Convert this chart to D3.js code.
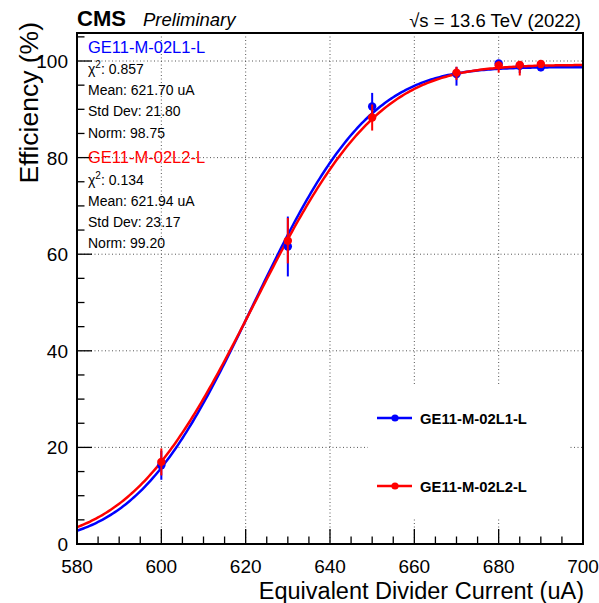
<!DOCTYPE html>
<html>
<head>
<meta charset="utf-8">
<script src="https://cdn.jsdelivr.net/npm/d3@7"></script>
<style>
  body { margin: 0; background: #fff; }
  text { font-family: "Liberation Sans", Arial, sans-serif; }
</style>
</head>
<body>
<svg id="chart" width="599" height="603"></svg>
<script>
// data
const currents = [600, 630, 650, 670, 680, 685, 690];
const effL1 = [16.3, 61.6, 90.6, 97.3, 99.5, 99.0, 98.7];
const effL1Lo = [3.0, 6.2, 2.8, 2.4, 1.0, 1.5, 0.8];
const effL1Hi = [3.0, 6.2, 2.8, 1.5, 0.5, 0.8, 0.6];
const effL2 = [17.0, 62.8, 88.3, 97.6, 99.1, 99.2, 99.4];
const effL2Lo = [2.8, 4.7, 2.7, 1.5, 1.5, 2.2, 0.8];
const effL2Hi = [2.8, 4.7, 2.7, 1.2, 0.8, 0.7, 0.5];

// fit results (shown in the stat boxes)
const chambers = ["GE11-M-02L1-L", "GE11-M-02L2-L"];
const colors = ["#0000ff", "#ff0000"];
const chi2 = [0.857, 0.134];
const fitMean = [621.70, 621.94];
const fitSigma = [21.80, 23.17];
const fitNorm = [98.75, 99.20];

const xTicks = [580, 600, 620, 640, 660, 680, 700];
const yTicks = [0, 20, 40, 60, 80, 100];

function drawEffChart(svgSelector) {
    const svg = d3.select(svgSelector);
    const margin = { top: 33, right: 16, bottom: 59, left: 77 };
    const width = +svg.attr("width");
    const height = +svg.attr("height");
    const w = width - margin.left - margin.right;
    const h = height - margin.top - margin.bottom;

    const x = d3.scaleLinear().domain([580, 700]).range([0, w]);
    const y = d3.scaleLinear().domain([0, 105.8]).range([h, 0]);

    const g = svg.append("g").attr("transform", `translate(${margin.left},${margin.top})`);

    // grid
    g.selectAll("line.gx").data(xTicks.slice(1, -1)).enter().append("line")
        .attr("x1", d => x(d)).attr("x2", d => x(d)).attr("y1", 0).attr("y2", h)
        .attr("stroke", "#555").attr("stroke-width", 1).attr("stroke-dasharray", "1,2.5");
    g.selectAll("line.gy").data(yTicks.slice(1)).enter().append("line")
        .attr("x1", 0).attr("x2", w).attr("y1", d => y(d)).attr("y2", d => y(d))
        .attr("stroke", "#555").attr("stroke-width", 1).attr("stroke-dasharray", "1,2.5");

    // error function fit: Norm * Phi((x - mean) / sigma)
    function erf(z) {
        const s = z < 0 ? -1 : 1;
        z = Math.abs(z);
        const t = 1 / (1 + 0.3275911 * z);
        const p = t * (0.254829592 + t * (-0.284496736 + t * (1.421413741 + t * (-1.453152027 + t * 1.061405429))));
        return s * (1 - p * Math.exp(-z * z));
    }
    const xs = d3.range(580, 700.01, 0.5);
    chambers.forEach((c, k) => {
        const f = v => fitNorm[k] * 0.5 * (1 + erf((v - fitMean[k]) / (fitSigma[k] * Math.SQRT2)));
        g.append("path")
            .datum(xs)
            .attr("fill", "none")
            .attr("stroke", colors[k])
            .attr("stroke-width", 2.5)
            .attr("d", d3.line().x(d => x(d)).y(d => y(f(d))));
    });

    // points with errors
    const series = [
        { eff: effL1, lo: effL1Lo, hi: effL1Hi },
        { eff: effL2, lo: effL2Lo, hi: effL2Hi }
    ];
    series.forEach((s, k) => {
        const pts = currents.map((c, i) => ({ c: c, v: s.eff[i], lo: s.lo[i], hi: s.hi[i] }));
        g.selectAll(null).data(pts).enter().append("line")
            .attr("x1", d => x(d.c)).attr("x2", d => x(d.c))
            .attr("y1", d => y(d.v - d.lo)).attr("y2", d => y(d.v + d.hi))
            .attr("stroke", colors[k]).attr("stroke-width", 2);
        g.selectAll(null).data(pts).enter().append("circle")
            .attr("cx", d => x(d.c)).attr("cy", d => y(d.v)).attr("r", 4.2)
            .attr("fill", colors[k]);
    });

    // frame
    g.append("rect").attr("width", w).attr("height", h)
        .attr("fill", "none").attr("stroke", "#000").attr("stroke-width", 2);

    // ticks
    const xMinor = d3.range(580, 701, 5);
    g.selectAll("line.tx").data(xMinor).enter().append("line")
        .attr("x1", d => x(d)).attr("x2", d => x(d))
        .attr("y1", h).attr("y2", d => h - (d % 20 === 0 ? 15 : 7.5))
        .attr("stroke", "#000").attr("stroke-width", 1.3);
    const yMinor = d3.range(0, 106, 5);
    g.selectAll("line.ty").data(yMinor).enter().append("line")
        .attr("x1", 0).attr("x2", d => (d % 20 === 0 ? 15 : 7.5))
        .attr("y1", d => y(d)).attr("y2", d => y(d))
        .attr("stroke", "#000").attr("stroke-width", 1.3);

    g.selectAll("text.xl").data(xTicks).enter().append("text")
        .attr("x", d => x(d)).attr("y", h + 29)
        .attr("text-anchor", "middle").style("font-size", "19px")
        .text(d => d);
    g.selectAll("text.yl").data(yTicks).enter().append("text")
        .attr("x", -9).attr("y", d => y(d) + 7)
        .attr("text-anchor", "end").style("font-size", "19px")
        .text(d => d);

    // axis titles
    g.append("text")
        .attr("x", w + 1).attr("y", h + 55)
        .attr("text-anchor", "end").style("font-size", "23.5px")
        .text("Equivalent Divider Current (uA)");
    svg.append("text")
        .attr("transform", "translate(38,22) rotate(-90)")
        .attr("text-anchor", "end").style("font-size", "26.5px")
        .text("Efficiency (%)");

    // header
    svg.append("text").attr("x", 77).attr("y", 26)
        .style("font-size", "22px").style("font-weight", "bold").text("CMS");
    svg.append("text").attr("x", 143).attr("y", 26)
        .style("font-size", "18.5px").style("font-style", "italic").text("Preliminary");
    svg.append("text").attr("x", 581).attr("y", 26.5)
        .attr("text-anchor", "end").style("font-size", "18.5px")
        .text("\u221As = 13.6 TeV (2022)");

    // stat boxes
    const statTop = [52.7, 163];
    chambers.forEach((c, k) => {
        const y0 = statTop[k];
        svg.append("text").attr("x", 88).attr("y", y0)
            .style("font-size", "16.5px").attr("fill", colors[k]).text(c);
        const t = svg.append("text").attr("x", 88).attr("y", y0 + 21.5).style("font-size", "14px");
        t.append("tspan").text("\u03C7");
        t.append("tspan").attr("dy", -6).style("font-size", "10px").text("2");
        t.append("tspan").attr("dy", 6).text(": " + chi2[k].toFixed(3));
        svg.append("text").attr("x", 88).attr("y", y0 + 42.5).style("font-size", "14px")
            .text("Mean: " + fitMean[k].toFixed(2) + " uA");
        svg.append("text").attr("x", 88).attr("y", y0 + 63.5).style("font-size", "14px")
            .text("Std Dev: " + fitSigma[k].toFixed(2));
        svg.append("text").attr("x", 88).attr("y", y0 + 85).style("font-size", "14px")
            .text("Norm: " + fitNorm[k].toFixed(2));
    });

    // legend
    const leg = svg.append("g");
    leg.append("rect").attr("x", 368).attr("y", 384).attr("width", 202).attr("height", 134)
        .attr("fill", "#fff");
    const legY = [418, 486];
    chambers.forEach((c, k) => {
        leg.append("line").attr("x1", 377).attr("x2", 412).attr("y1", legY[k]).attr("y2", legY[k])
            .attr("stroke", colors[k]).attr("stroke-width", 2.5);
        leg.append("circle").attr("cx", 395).attr("cy", legY[k]).attr("r", 3.6).attr("fill", colors[k]);
        leg.append("text").attr("x", 420).attr("y", legY[k] + 5.5)
            .style("font-size", "14.8px").style("font-weight", "bold").text(c);
    });
}

drawEffChart("#chart");
</script>
</body>
</html>
